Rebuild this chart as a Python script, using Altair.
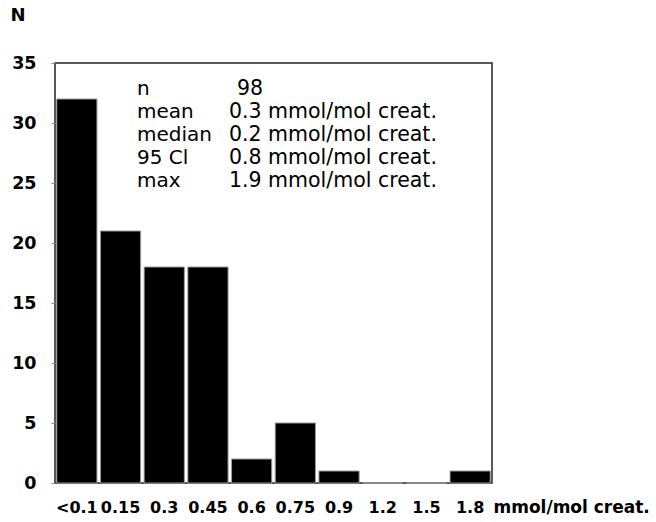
import altair as alt
import pandas as pd

# Histogram classes and counts
categories = ["<0.1", "0.15", "0.3", "0.45", "0.6", "0.75", "0.9", "1.2", "1.5", "1.8"]
counts = [32, 21, 18, 18, 2, 5, 1, 0, 0, 1]

# Summary statistics box
stat_names = ["n", "mean", "median", "95 Cl", "max"]
stat_values = ["98", "0.3 mmol/mol creat.", "0.2 mmol/mol creat.",
               "0.8 mmol/mol creat.", "1.9 mmol/mol creat."]

FONT = "DejaVu Sans"
W, H = 437, 420

bars_df = pd.DataFrame({"cls": categories, "count": counts})
stats_df = pd.DataFrame({
    "name": stat_names,
    "value": stat_values,
    "py": [26 + 23 * i for i in range(len(stat_names))],
    "vx": [182 if v == "98" else 174 for v in stat_values],
})

bars = alt.Chart(bars_df).mark_bar(
    color="black", stroke="#9a9a9a", strokeWidth=1
).encode(
    x=alt.X(
        "cls:N", sort=categories,
        scale=alt.Scale(paddingInner=0.08, paddingOuter=0.04),
        axis=alt.Axis(
            title="mmol/mol creat.", titleX=W + 1, titleY=24,
            titleAlign="left", titleBaseline="middle",
            titleFont=FONT, titleFontSize=17, titleFontWeight="bold",
            titleColor="black",
            labelAngle=0, labelFont=FONT, labelFontSize=16,
            labelFontWeight="bold", labelColor="black",
            labelBaseline="middle", labelPadding=24,
            labelOverlap=False,
            ticks=False, domain=False,
        ),
    ),
    y=alt.Y(
        "count:Q",
        scale=alt.Scale(domain=[0, 35], nice=False),
        axis=alt.Axis(
            values=[0, 5, 10, 15, 20, 25, 30, 35],
            title="N", titleAngle=0, titleX=-45, titleY=-48,
            titleAlign="left", titleBaseline="middle",
            titleFont=FONT, titleFontSize=18, titleFontWeight="bold",
            titleColor="black",
            labelFont=FONT, labelFontSize=17.5, labelFontWeight="bold",
            labelColor="black", labelPadding=15,
            tickSize=4, tickColor="#888", domain=False, grid=False,
        ),
    ),
)

names = alt.Chart(stats_df).mark_text(
    align="left", baseline="middle", font=FONT, fontSize=20, color="black"
).encode(
    x=alt.value(82),
    y=alt.Y("py:Q", scale=None),
    text="name:N",
)

values = alt.Chart(stats_df).mark_text(
    align="left", baseline="middle", font=FONT, fontSize=20.5, color="black"
).encode(
    x=alt.X("vx:Q", scale=None),
    y=alt.Y("py:Q", scale=None),
    text="value:N",
)

chart = alt.layer(bars, names, values).properties(
    width=W, height=H,
    autosize=alt.AutoSizeParams(type="none"),
    padding={"left": 55, "top": 63, "right": 164, "bottom": 39},
    background="white",
).configure_view(
    stroke="#222", strokeWidth=1.5
)

chart.save("out.html", embed_options={"renderer": "svg", "actions": False})
